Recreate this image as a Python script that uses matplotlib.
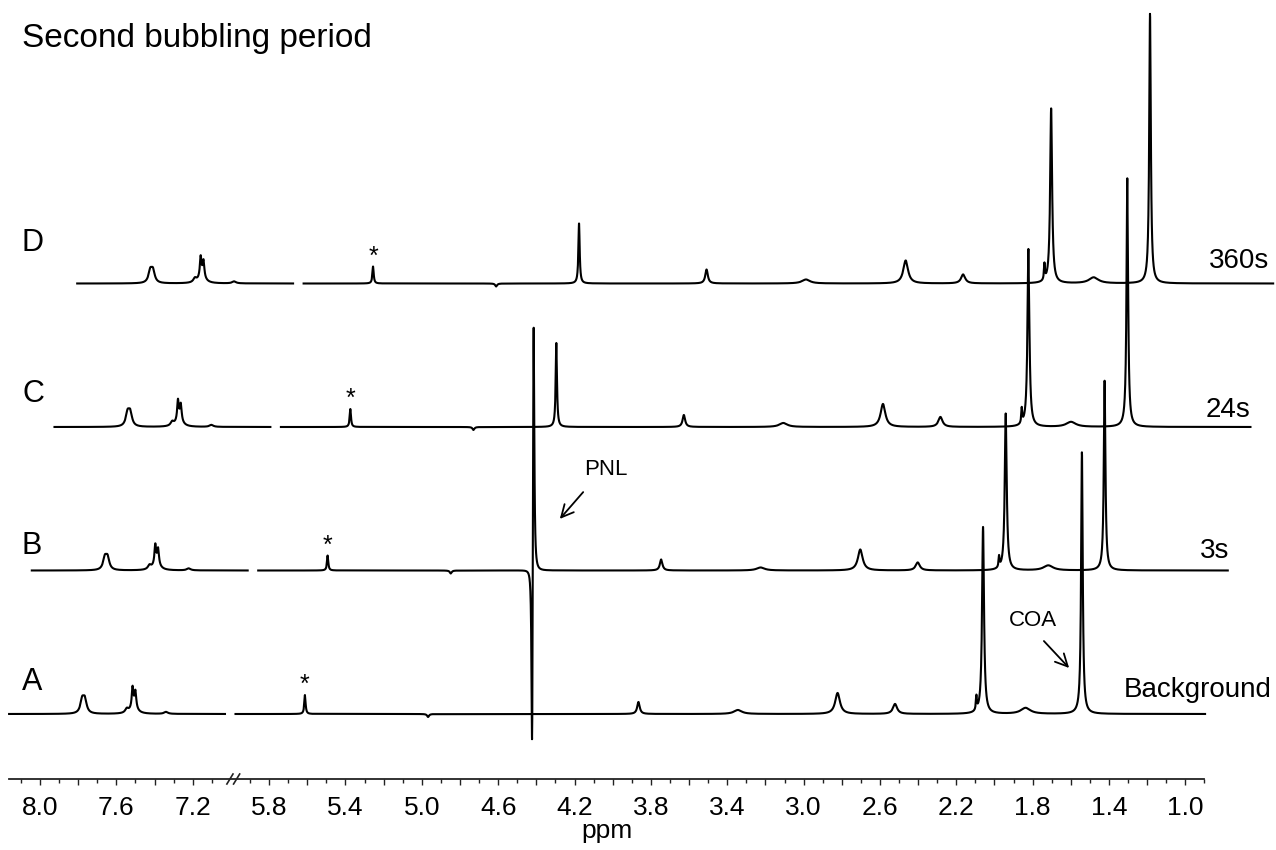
"""Stacked 1H NMR spectra, second bubbling period."""

import numpy as np
import matplotlib
matplotlib.use("Agg")
import matplotlib.pyplot as plt

plt.rcParams["font.family"] = ["Liberation Sans", "DejaVu Sans"]

W, H = 1276, 850

# --- data -------------------------------------------------------------
trace_names = ["A", "B", "C", "D"]
time_labels = ["Background", "3s", "24s", "360s"]

# peak list (ppm, half width at half max in ppm)
peak_ppm = [7.779, 7.765, 7.545, 7.515, 7.500, 7.508, 7.34, 5.612, 4.967,
            4.533, 4.541, 3.865, 3.344, 2.822, 2.521, 2.095, 2.060, 1.837, 1.542]
peak_hwhm = [0.011, 0.011, 0.010, 0.005, 0.005, 0.020, 0.012, 0.004, 0.006,
             0.004, 0.004, 0.008, 0.025, 0.015, 0.013, 0.003, 0.006, 0.030, 0.005]

# peak heights (a.u.) for each spectrum
heights_A = [13.0, 13.0, 4, 20, 16, 7, 2, 19, -3, 0, 0, 12, 4, 21, 10, 14, 187, 6, 262]
heights_B = [11.6, 11.6, 4, 19, 15, 7, 2, 15, -3, 287, -224, 11, 3, 21, 8, 11, 157, 5, 190]
heights_C = [13.0, 13.0, 4, 20, 16, 7, 2, 18, -3, 84, 0, 12, 4, 23, 10, 15, 178, 5, 249]
heights_D = [11.6, 11.6, 4, 20, 16, 7, 2, 17, -3, 60, 0, 14, 4, 23, 9, 16, 175, 6, 270]
all_heights = [heights_A, heights_B, heights_C, heights_D]

star_ppm = 5.612

# recorded windows (ppm) on each side of the axis break
left_window = (8.162, 7.031)
right_window = (5.976, 0.897)
BREAK_SHIFT = 1.0          # ppm removed by the axis break

major_left = [8.0, 7.8, 7.6, 7.4, 7.2]
minor_left = [8.1, 7.9, 7.7, 7.5, 7.3, 7.1]
major_right = [5.8, 5.6, 5.4, 5.2, 5.0, 4.8, 4.6, 4.4, 4.2, 4.0, 3.8, 3.6, 3.4,
               3.2, 3.0, 2.8, 2.6, 2.4, 2.2, 2.0, 1.8, 1.6, 1.4, 1.2, 1.0]
minor_right = [5.9, 5.7, 5.5, 5.3, 5.1, 4.9, 4.7, 4.5, 4.3, 4.1, 3.9, 3.7, 3.5,
               3.3, 3.1, 2.9, 2.7, 2.5, 2.3, 2.1, 1.9, 1.7, 1.5, 1.3, 1.1, 0.9]
tick_labels = ["8.0", "7.6", "7.2", "5.8", "5.4", "5.0", "4.6", "4.2", "3.8",
               "3.4", "3.0", "2.6", "2.2", "1.8", "1.4", "1.0"]

# stacking: each spectrum is shifted right and up
X_STEP = 0.1189     # axis units
Y_BASE = 65
Y_STEP = 143.5


def spectrum(ppm, heights):
    y = np.zeros_like(ppm)
    for p0, w, h in zip(peak_ppm, peak_hwhm, heights):
        y += h / (1.0 + ((ppm - p0) / w) ** 2)
    return y


def to_axis(ppm):
    ppm = np.asarray(ppm, dtype=float)
    return np.where(ppm > 6.5, ppm, ppm + BREAK_SHIFT)


def fig_pos(x, y):
    return x / W, 1 - y / H


fig = plt.figure(figsize=(W / 100, H / 100), dpi=100)
ax = fig.add_axes([0, 71 / H, 1, 1 - 71 / H])
ax.set_xlim(8.2095, 1.5254)
ax.set_ylim(0, 779)

for i, heights in enumerate(all_heights):
    y0 = Y_BASE + Y_STEP * i
    for hi, lo in (left_window, right_window):
        ppm = np.arange(lo, hi, 0.0004)
        ax.plot(to_axis(ppm) - X_STEP * i, y0 + spectrum(ppm, heights),
                color="black", lw=1.5, solid_joinstyle="round")
    top = y0 + spectrum(np.array([star_ppm]), heights)[0]
    ax.text(float(to_axis(star_ppm)) - X_STEP * i, top + 3, "*",
            fontsize=18, ha="center", va="baseline")

# x axis with break
for s in ("top", "left", "right"):
    ax.spines[s].set_visible(False)
ax.spines["bottom"].set_bounds(8.162, 1.9026)
ax.spines["bottom"].set_linewidth(1.3)
ax.spines["bottom"].set_color("#222222")
ax.set_yticks([])

major = list(to_axis(major_left)) + list(to_axis(major_right))
minor = list(to_axis(minor_left)) + list(to_axis(minor_right))
major_txt = [f"{v:.1f}" for v in major_left + major_right]
ax.set_xticks(major, [t if t in tick_labels else "" for t in major_txt])
ax.set_xticks(minor, minor=True)
ax.tick_params(axis="x", which="major", direction="out", length=4.5, width=1.0,
               color="#222222", labelsize=19, pad=8)
ax.tick_params(axis="x", which="minor", direction="out", length=3, width=1.0,
               color="#222222")

# break marks "//"
bx = float(to_axis(7.0)) + 0.005
for dx in (0.0, -0.035):
    ax.plot([bx + dx + 0.016, bx + dx - 0.016], [-5, 5], color="#222222",
            lw=1.2, clip_on=False)

fig.text(*fig_pos(607, 838), "ppm", fontsize=19, ha="center", va="baseline")

# labels
fig.text(*fig_pos(22, 47), "Second bubbling period", fontsize=24, va="baseline")
for name, yb in zip(trace_names, [690, 554, 402, 251]):
    fig.text(*fig_pos(22, yb), name, fontsize=22, va="baseline")
for lab, (xr, yb) in zip(time_labels, [(1272, 697), (1229, 558), (1250, 417), (1269, 268)]):
    fig.text(*fig_pos(xr, yb), lab, fontsize=20, ha="right", va="baseline")

fig.text(*fig_pos(584, 475), "PNL", fontsize=16, va="baseline")
ax.annotate("", xy=fig_pos(558, 521), xytext=fig_pos(585, 490),
            xycoords="figure fraction", textcoords="figure fraction",
            arrowprops=dict(arrowstyle="->", lw=1.3, mutation_scale=22))
fig.text(*fig_pos(1009, 626), "COA", fontsize=16, va="baseline")
ax.annotate("", xy=fig_pos(1071, 670), xytext=fig_pos(1042, 639),
            xycoords="figure fraction", textcoords="figure fraction",
            arrowprops=dict(arrowstyle="->", lw=1.3, mutation_scale=22))

fig.savefig("out.png", dpi=100)
